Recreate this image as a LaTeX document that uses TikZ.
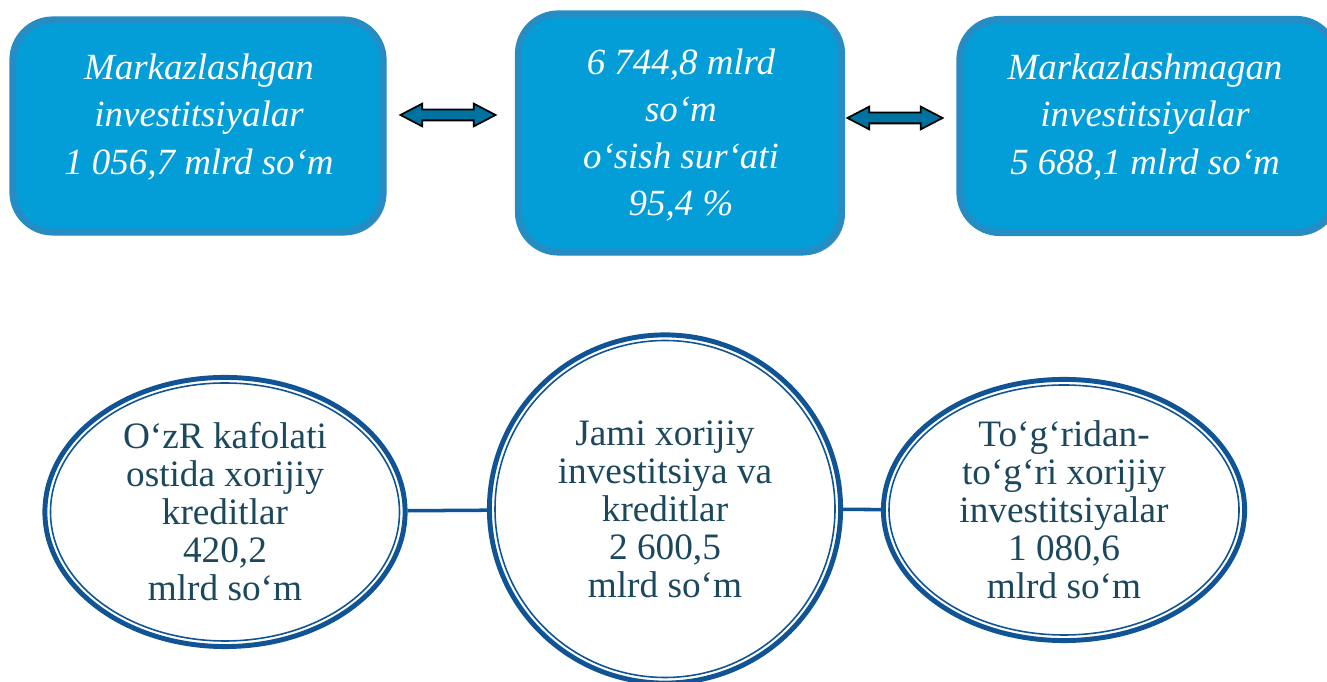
\documentclass[tikz,border=0pt]{standalone}
\usepackage{fontspec}
\setmainfont{Liberation Serif}
\usetikzlibrary{shapes.geometric,shapes.arrows,shadows,positioning}

\definecolor{blokfill}{RGB}{3,157,216}
\definecolor{blokedge}{RGB}{38,140,196}
\definecolor{blokshade}{RGB}{120,150,172}
\definecolor{strelkafill}{RGB}{0,114,160}
\definecolor{halqablue}{RGB}{16,84,150}
\definecolor{halqatext}{RGB}{27,72,92}

\tikzset{
  blok/.style={rectangle, rounded corners=0.4cm, fill=blokfill, draw=blokedge,
    line width=2pt, drop shadow={shadow xshift=0.03cm, shadow yshift=-0.03cm,
    fill=blokshade, opacity=1}},
  blokmatn/.style={align=center, text=white, inner sep=0pt,
    font=\itshape\fontsize{10.5}{13.4}\selectfont},
  strelka/.style={double arrow, draw=black, fill=strelkafill, line width=0.5pt,
    minimum height=0.95cm, inner xsep=0pt, inner ysep=0.045cm,
    double arrow head extend=0.06cm, double arrow tip angle=55},
  halqa/.style={ellipse, draw=halqablue, line width=1.4pt, fill=white,
    align=center, text=halqatext, inner sep=0pt,
    font=\fontsize{10.6}{10.8}\selectfont},
  ichki/.style={draw=halqablue, line width=0.45pt},
  ulash/.style={draw=halqablue, line width=1pt}
}

\begin{document}
\begin{tikzpicture}[x=0.01cm,y=0.01cm]
	\useasboundingbox (0,0) rectangle (1327,682);
	% Yuqori bloklar
	\begin{scope}
		\node[blok, minimum width=3.70cm, minimum height=2.12cm] (b1) at (198,556) {};
		\node[blok, minimum width=3.23cm, minimum height=2.38cm] (b2) at (680,549) {};
		\node[blok, minimum width=3.76cm, minimum height=2.13cm] (b3) at (1148,556) {};
		\node[blokmatn] (t1) at (199,565) {Markazlashgan\\investitsiyalar\\1 056,7 mlrd so‘m};
		\node[blokmatn] (t2) at (681,547) {6 744,8 mlrd\\so‘m\\o‘sish sur‘ati\\95,4 \%};
		\node[blokmatn] (t3) at (1145,565) {Markazlashmagan\\investitsiyalar\\5 688,1 mlrd so‘m};
	\end{scope}
	% Strelkalar
	\node[strelka] (s1) at (448,567) {};
	\node[strelka] (s2) at (895,564) {};
	% Pastki halqalar
	\begin{scope}
		\node[halqa, minimum width=3.60cm, minimum height=2.69cm] (h1) at (225,170)
			{O‘zR kafolati\\ostida xorijiy\\kreditlar\\420,2\\mlrd so‘m};
		\node[halqa, minimum width=3.51cm, minimum height=3.48cm] (h2) at (665,173)
			{Jami xorijiy\\investitsiya va\\kreditlar\\2 600,5\\mlrd so‘m};
		\node[halqa, minimum width=3.61cm, minimum height=2.61cm] (h3) at (1064,172)
			{To‘g‘ridan-\\to‘g‘ri xorijiy\\investitsiyalar\\1 080,6\\mlrd so‘m};
		\draw[ichki] (h1.center) ellipse [x radius=174.5, y radius=129];
		\draw[ichki] (h2.center) ellipse [x radius=170, y radius=168.5];
		\draw[ichki] (h3.center) ellipse [x radius=175, y radius=125];
	\end{scope}
	% Chiziqlar
	\draw[ulash] (h1) -- (h2);
	\draw[ulash] (h2) -- (h3);
\end{tikzpicture}
\end{document}
